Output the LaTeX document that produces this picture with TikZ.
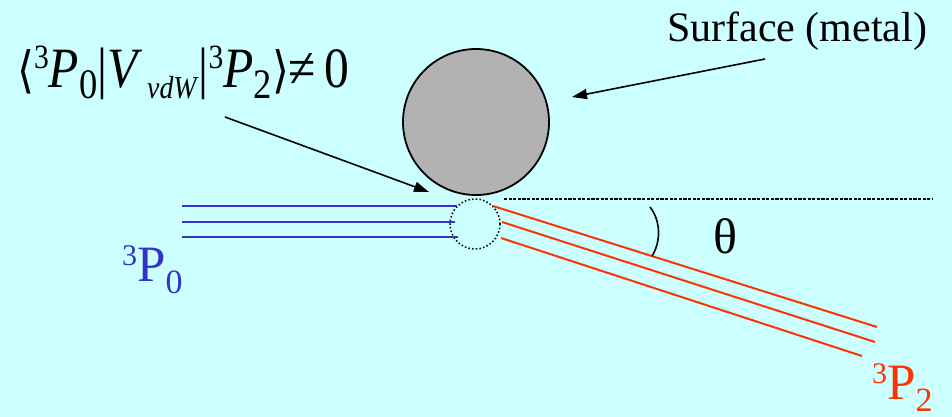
\documentclass[tikz,border=0pt]{standalone}
\usepackage{fontspec}
\setmainfont{Liberation Serif}
\newfontfamily\bracketfont{DejaVu Sans}
\usetikzlibrary{arrows.meta}

\definecolor{skyback}{HTML}{CCFFFF}
\definecolor{beamblue}{HTML}{3333CC}
\definecolor{beamred}{HTML}{FF3300}
\definecolor{metalgray}{HTML}{B2B2B2}

% level label: ^3P_n
\newcommand{\stateP}[1]{{\fontsize{30}{30}\selectfont\raisebox{16pt}{3}}{\fontsize{51}{51}\selectfont P}{\fontsize{34}{34}\selectfont\raisebox{-12pt}{#1}}}
\newcommand{\supthree}{{\fontsize{34}{34}\selectfont\raisebox{19pt}{3}}}
\newcommand{\subdown}[1]{{\fontsize{42}{42}\selectfont\raisebox{-11pt}{#1}}}

\tikzset{
  metal/.style={circle, draw, line width=1.8pt, fill=metalgray, minimum size=146pt, inner sep=0pt},
  spot/.style={circle, draw, line width=1.5pt, dash pattern=on 1.5pt off 2.2pt, minimum size=50pt, inner sep=0pt},
  blueline/.style={beamblue, line width=1.5pt, preaction={draw=beamblue!35, line width=2.8pt}},
  redline/.style={beamred, line width=2pt},
  pointer/.style={line width=1.6pt, -{Triangle[length=15pt,width=10pt]}},
  levellabel/.style={inner sep=0pt, anchor=base west, font=\rmfamily}
}

\begin{document}
\begin{tikzpicture}[x=1pt, y=-1pt]
    \fill[skyback] (0,0) rectangle (952,417);
    \useasboundingbox (0,0) rectangle (952,417);

    \node[metal] (metal) at (476,122) {};
    \node[spot] (spot) at (475,224) {};

    % incoming beam
    \coordinate (b1s) at (182,206); \coordinate (b1e) at (457,206);
    \coordinate (b2s) at (182,222); \coordinate (b2e) at (455,222);
    \coordinate (b3s) at (182,237); \coordinate (b3e) at (458,237);
    \draw[blueline] (b1s) -- (b1e);
    \draw[blueline] (b2s) -- (b2e);
    \draw[blueline] (b3s) -- (b3e);

    % outgoing beam
    \coordinate (r1s) at (493,206); \coordinate (r1e) at (877,327);
    \coordinate (r2s) at (502,222); \coordinate (r2e) at (875,342);
    \coordinate (r3s) at (501,238); \coordinate (r3e) at (862,356);
    \draw[redline] (r1s) -- (r1e);
    \draw[redline] (r2s) -- (r2e);
    \draw[redline] (r3s) -- (r3e);

    % surface plane and angle
    \coordinate (planeL) at (504,199); \coordinate (planeR) at (932,199);
    \draw[line width=2.8pt, dash pattern=on 3.2pt off 1.4pt] (planeL) -- (planeR);
    \coordinate (arcA) at (650,207); \coordinate (arcB) at (652,256);
    \draw[line width=1.6pt] (arcA) .. controls (661,221) and (661,242) .. (arcB);
    \node[font=\rmfamily\fontsize{50}{50}\selectfont] (theta) at (725,236) {θ};

    % labels
    \node[levellabel, beamblue] (p0) at (122,281) {\stateP{0}};
    \node[levellabel, beamred] (p2) at (872,399) {\stateP{2}};
    \node[levellabel, font=\rmfamily\fontsize{42}{42}\selectfont] (surf) at (667,42) {Surface (metal)};
    \node[levellabel] (matrixel) at (17,88) {\scalebox{0.87}[1]{\fontsize{57}{57}\selectfont
      {\bracketfont\fontsize{50}{50}\selectfont ⟨}\supthree\textit{P}\subdown{0}|\textit{V}{\fontsize{32}{32}\selectfont\raisebox{-11pt}{\,\textit{vdW}}}|\supthree\textit{P}\subdown{2}{\bracketfont\fontsize{50}{50}\selectfont ⟩}≠\,0}};

    % pointers
    \coordinate (surfTail) at (765,59); \coordinate (surfHead) at (572,97);
    \coordinate (elTail) at (225,117); \coordinate (elHead) at (429,192);
    \draw[pointer] (surfTail) -- (surfHead);
    \draw[pointer] (elTail) -- (elHead);
\end{tikzpicture}
\end{document}
